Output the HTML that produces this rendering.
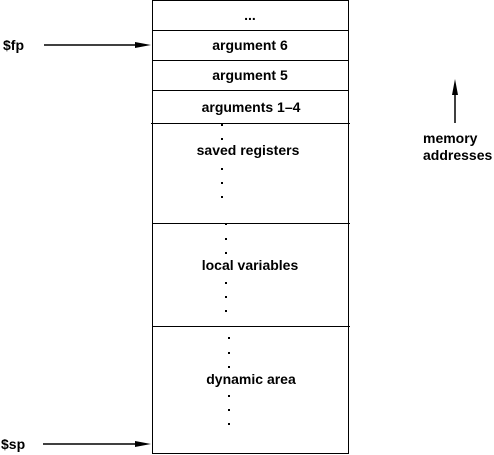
<!DOCTYPE html>
<html><head><style>
html,body{margin:0;padding:0;background:#fff;}
svg{display:block;}
text{font-family:"Liberation Sans",Arial,sans-serif;font-weight:bold;font-size:14px;fill:#000;}
</style></head><body>
<svg width="494" height="455" viewBox="0 0 494 455" xmlns="http://www.w3.org/2000/svg">
<g stroke="#000" stroke-width="1" fill="none">
<rect x="152.5" y="0.5" width="196" height="453"/>
<line x1="152" y1="30.5" x2="349" y2="30.5"/>
<line x1="152" y1="60.5" x2="349" y2="60.5"/>
<line x1="152" y1="90.5" x2="349" y2="90.5"/>
<line x1="151" y1="123.5" x2="350" y2="123.5"/>
<line x1="152" y1="223.5" x2="350" y2="223.5"/>
<line x1="152" y1="326.5" x2="350" y2="326.5"/>
<line x1="44" y1="45" x2="140" y2="45" stroke-width="1.5"/>
<line x1="43" y1="444" x2="140" y2="444" stroke-width="1.5"/>
<line x1="455" y1="90" x2="455" y2="123" stroke-width="1.5"/>
</g>
<g fill="#000">
<polygon points="135,42 151,45 135,48"/>
<polygon points="135,441 151,444 135,447"/>
<polygon points="452,95 455,79 458,95"/>
<g>
<rect x="221" y="124" width="2" height="2"/><rect x="221" y="138" width="2" height="2"/>
<rect x="221" y="168" width="2" height="2"/><rect x="221" y="182" width="2" height="2"/><rect x="221" y="196" width="2" height="2"/>
<rect x="225" y="223" width="2" height="2"/><rect x="225" y="238" width="2" height="2"/><rect x="225" y="252" width="2" height="2"/>
<rect x="225" y="282" width="2" height="2"/><rect x="225" y="296" width="2" height="2"/><rect x="225" y="310" width="2" height="2"/>
<rect x="228" y="337" width="2" height="2"/><rect x="228" y="352" width="2" height="2"/><rect x="228" y="366" width="2" height="2"/>
<rect x="228" y="395" width="2" height="2"/><rect x="228" y="409" width="2" height="2"/><rect x="228" y="423" width="2" height="2"/>
</g>
</g>
<text x="250" y="20" text-anchor="middle">...</text>
<text x="250" y="50" text-anchor="middle">argument 6</text>
<text x="250" y="80" text-anchor="middle">argument 5</text>
<text x="251" y="112" text-anchor="middle">arguments 1–4</text>
<text x="248" y="155" text-anchor="middle">saved registers</text>
<text x="250" y="270" text-anchor="middle">local variables</text>
<text x="251" y="384" text-anchor="middle">dynamic area</text>
<text x="3" y="50">$fp</text>
<text x="1" y="449">$sp</text>
<text x="423" y="143">memory</text>
<text x="423" y="160">addresses</text>
</svg>
</body></html>
